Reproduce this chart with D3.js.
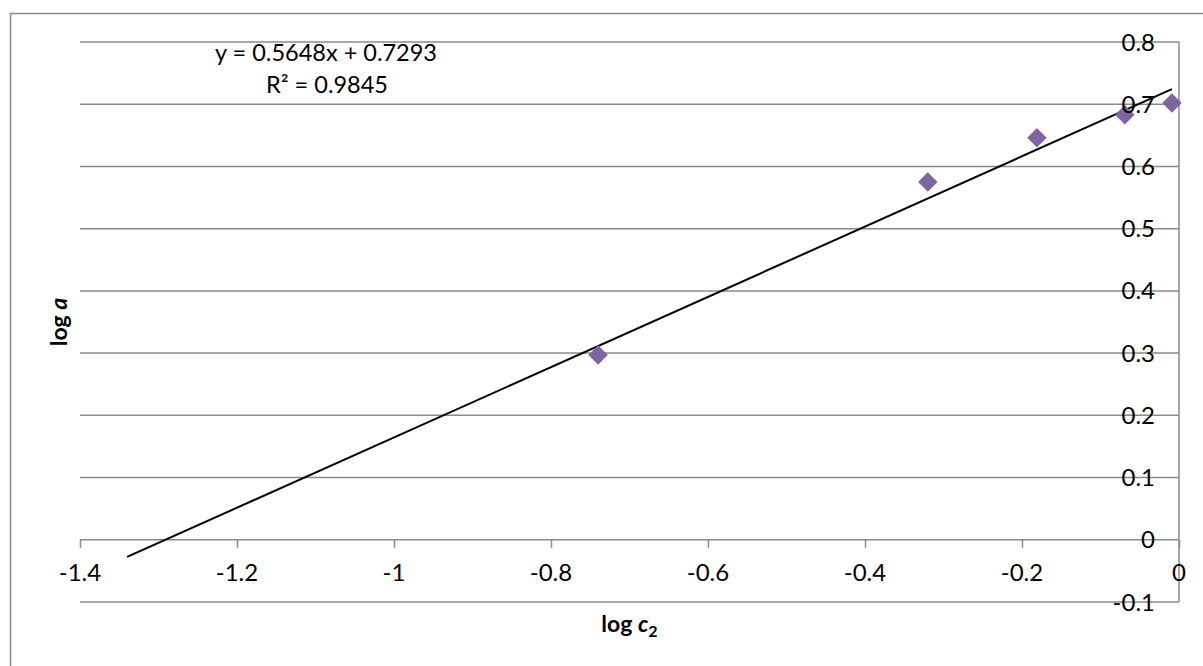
<!DOCTYPE html>
<html>
<head>
<meta charset="utf-8">
<script src="https://cdn.jsdelivr.net/npm/d3@7"></script>
<style>
  html, body { margin: 0; padding: 0; background: #fff; }
  svg { display: block; }
  text { font-family: Lato, "Open Sans", sans-serif; fill: #000; }
</style>
</head>
<body>
<svg id="chart" width="1203" height="666"></svg>
<script>
// ---- data ----
const logC2 = [-0.740, -0.320, -0.181, -0.069, -0.009];
const logA  = [0.297, 0.575, 0.646, 0.683, 0.702];
const xTicks = [-1.4, -1.2, -1, -0.8, -0.6, -0.4, -0.2, 0];
const yTicks = [-0.1, 0, 0.1, 0.2, 0.3, 0.4, 0.5, 0.6, 0.7, 0.8];
const trendSlope = 0.5648;
const trendIntercept = 0.7293;
const trendBackward = 0.6;
const equationText = "y = 0.5648x + 0.7293";
const r2Text = "R² = 0.9845";

// ---- layout ----
const svg = d3.select("#chart");
const pLeft = 80, pRight = 1179, pTop = 42, pBottom = 602;
const x = d3.scaleLinear().domain([-1.4, 0]).range([pLeft, pRight]);
const y = d3.scaleLinear().domain([-0.1, 0.8]).range([pBottom, pTop]);
const grey = "#8a8a8a";

// chart border
svg.append("rect").attr("x", 10.5).attr("y", 13.5).attr("width", 1300).attr("height", 800)
  .attr("fill", "none").attr("stroke", grey).attr("stroke-width", 1.5);

// gridlines (horizontal)
svg.append("g").selectAll("line").data(yTicks.filter(d => d !== 0)).join("line")
  .attr("x1", pLeft).attr("x2", pRight)
  .attr("y1", d => y(d)).attr("y2", d => y(d))
  .attr("stroke", grey).attr("stroke-width", 1.5);

// x axis at y=0
const xAxis = d3.axisBottom(x).tickValues(xTicks).tickSize(8).tickFormat(() => "");
const gx = svg.append("g").attr("transform", `translate(0,${y(0)})`).call(xAxis);
gx.select(".domain").attr("stroke", grey).attr("stroke-width", 1.5).attr("d", `M${pLeft},0H${pRight}`);
gx.selectAll(".tick line").attr("stroke", grey).attr("stroke-width", 1.5);

// y axis at x=0 (right side)
const yAxis = d3.axisLeft(y).tickValues(yTicks).tickSize(0).tickFormat(() => "");
const gy = svg.append("g").attr("transform", `translate(${x(0)},0)`).call(yAxis);
gy.select(".domain").attr("stroke", grey).attr("stroke-width", 1.5).attr("d", `M0,${pTop}V${pBottom}`);

// trendline
const xStart = d3.min(logC2) - trendBackward, xEnd = d3.max(logC2);
svg.append("line")
  .attr("x1", x(xStart)).attr("y1", y(trendSlope * xStart + trendIntercept))
  .attr("x2", x(xEnd)).attr("y2", y(trendSlope * xEnd + trendIntercept))
  .attr("stroke", "#000").attr("stroke-width", 2);

// points
const pts = logC2.map((v, i) => [v, logA[i]]);
svg.append("g").selectAll("path").data(pts).join("path")
  .attr("transform", d => `translate(${x(d[0])},${y(d[1])})`)
  .attr("d", d3.symbol(d3.symbolDiamond2, 240)())
  .attr("fill", "#8064A2");

// x tick labels
const fmt = d => (d === 0 ? "0" : String(d));
svg.append("g").selectAll("text").data(xTicks).join("text")
  .attr("x", d => x(d)).attr("y", 581)
  .attr("text-anchor", "middle").attr("font-size", 24)
  .text(fmt);

// y tick labels
svg.append("g").selectAll("text").data(yTicks).join("text")
  .attr("x", 1155).attr("y", d => y(d) + 8.5)
  .attr("text-anchor", "end").attr("font-size", 24)
  .text(fmt);

// equation
svg.append("text").attr("x", 326).attr("y", 61).attr("text-anchor", "middle")
  .attr("font-size", 23.5).text(equationText);
svg.append("text").attr("x", 327).attr("y", 93).attr("text-anchor", "middle")
  .attr("font-size", 23.5).text(r2Text);

// axis titles
const xt = svg.append("text").attr("x", (pLeft + pRight) / 2).attr("y", 632)
  .attr("text-anchor", "middle").attr("font-size", 23).attr("font-weight", "bold");
xt.append("tspan").text("log ");
xt.append("tspan").attr("font-style", "italic").text("c");
xt.append("tspan").attr("font-size", 16).attr("dy", 5).text("2");

const yt = svg.append("text")
  .attr("transform", `translate(67,${(pTop + pBottom) / 2}) rotate(-90)`)
  .attr("text-anchor", "middle").attr("font-size", 23).attr("font-weight", "bold");
yt.append("tspan").text("log ");
yt.append("tspan").attr("font-style", "italic").text("a");
</script>
</body>
</html>
